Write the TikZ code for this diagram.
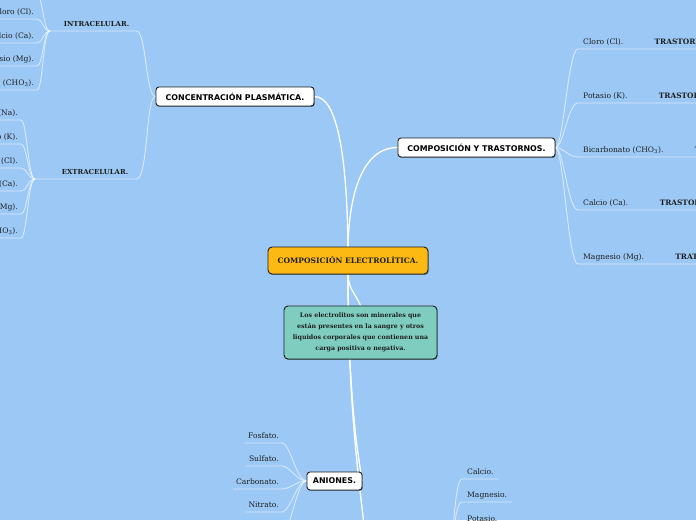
\documentclass[tikz,border=0pt]{standalone}
\usepackage{fontspec}
\setmainfont{DejaVu Serif}
\newfontfamily\boxfont{DejaVu Sans}
\usetikzlibrary{calc,shadows}
\definecolor{bgblue}{RGB}{155,200,245}
\definecolor{orng}{RGB}{253,185,19}
\definecolor{tealbox}{RGB}{126,205,191}
\definecolor{ink}{RGB}{30,30,30}
\pgfdeclarelayer{bg}\pgfdeclarelayer{edges}\pgfsetlayers{bg,edges,main}
\begin{document}
\begin{tikzpicture}[x=1pt,y=-1pt,
  box/.style={draw=ink, line width=0.9pt, rounded corners=3pt, fill=white,
    font=\boxfont\bfseries\fontsize{7.9}{9}\selectfont, text=black, inner sep=0pt,
    minimum height=19pt,
    drop shadow={shadow xshift=0.7pt, shadow yshift=-0.9pt, opacity=0.45, fill=black}},
  cbox/.style={draw=ink, line width=0.9pt, rounded corners=4pt, text=ink, inner sep=0pt,
    font=\bfseries\fontsize{7.5}{9}\selectfont,
    drop shadow={shadow xshift=0.7pt, shadow yshift=-0.9pt, opacity=0.45, fill=black}},
  leaf/.style={font=\fontsize{7.6}{9}\selectfont, text=ink, inner ysep=2.2pt,
    text height=5.6pt, text depth=1.9pt},
  leafL/.style={leaf, inner xsep=3pt, anchor=south east},
  leafR/.style={leaf, inner xsep=5pt, anchor=south west},
  midlbl/.style={font=\bfseries\fontsize{6.9}{8}\selectfont, text=ink, inner ysep=2.5pt,
    text height=5pt, text depth=1.5pt, anchor=south west},
  grand/.style={font=\bfseries\fontsize{7.4}{9}\selectfont, text=ink, inner xsep=5pt,
    inner ysep=2.2pt, text height=5.6pt, text depth=1.9pt, anchor=south west},
  mainl/.style={draw=white, line width=1.3pt},
  sub/.style={draw=white, draw opacity=0.6, line width=0.9pt}
]
\useasboundingbox (0,0) rectangle (696,520);
\begin{pgfonlayer}{bg}
\fill[bgblue] (0,0) rectangle (696,520);
\end{pgfonlayer}

% main boxes
\node[cbox, fill=orng, minimum width=160pt, minimum height=27pt] (cen) at (348,260.5) {COMPOSICIÓN ELECTROLÍTICA.};
\node[cbox, fill=tealbox, minimum width=153pt, minimum height=53pt, text width=150pt, align=center,
  font=\bfseries\fontsize{6.3}{11}\selectfont] (desc) at (360.5,332.5)
  {Los electrolitos son minerales que\\están presentes en la sangre y otros\\liquidos corporales que contienen una\\carga positiva o negativa.};
\node[box, minimum width=158pt] (conc) at (235,96.5) {CONCENTRACIÓN PLASMÁTICA.};
\node[box, minimum width=157pt] (comp) at (476.5,147.5) {COMPOSICIÓN Y TRASTORNOS.};
\node[box, minimum width=55pt, minimum height=18pt] (anio) at (334.5,481) {ANIONES.};

% offscreen parents
\coordinate (catN) at (366,545);
\coordinate (catE) at (448,550);

% intracelular / extracelular
\node[midlbl, inner xsep=7pt, text width=72pt, align=right] (intra) at (50,31) {INTRACELULAR.};
\node[midlbl, inner xsep=8pt, text width=85pt, align=right] (extra) at (35,179) {EXTRACELULAR.};

\node[leafL] (i0) at (37,-4) {Potasio (K).};
\node[leafL] (i1) at (37,19) {Cloro (Cl).};
\node[leafL] (i2) at (37,43) {Calcio (Ca).};
\node[leafL] (i3) at (37,66) {Magnesio (Mg).};
\node[leafL] (i4) at (37,90) {Bicarbonato (CHO\textsubscript{3}).};

\node[leafL] (e1) at (21,120) {Sodio (Na).};
\node[leafL] (e2) at (21,144) {Potasio (K).};
\node[leafL] (e3) at (21,168) {Cloro (Cl).};
\node[leafL] (e4) at (21,191) {Calcio (Ca).};
\node[leafL] (e5) at (21,214) {Magnesio (Mg).};
\node[leafL] (e6) at (21,238) {Bicarbonato (CHO\textsubscript{3}).};

% composicion y trastornos
\node[leafR] (r1) at (578,49) {Cloro (Cl).};
\node[leafR] (r2) at (578,103) {Potasio (K).};
\node[leafR] (r3) at (578,157) {Bicarbonato (CHO\textsubscript{3}).};
\node[leafR] (r4) at (578,210) {Calcio (Ca).};
\node[leafR] (r5) at (578,264) {Magnesio (Mg).};
\foreach \k/\t in {1/TRASTORNOS DEL CLORO., 2/TRASTORNOS DEL POTASIO., 3/TRASTORNOS DEL BICARBONATO., 4/TRASTORNOS DEL CALCIO., 5/TRATAMIENTO.}{
  \node[grand] (g\k) at ($(r\k.south east)+(21,0)$) {\t};
}

% aniones
\node[leafL] (a1) at (282,443) {Fosfato.};
\node[leafL] (a2) at (282,466) {Sulfato.};
\node[leafL] (a3) at (282,489) {Carbonato.};
\node[leafL] (a4) at (282,512) {Nitrato.};
\node[leafL] (a5) at (282,535) {Cloruro.};

% cationes
\node[leafR] (k1) at (462,479) {Calcio.};
\node[leafR] (k2) at (462,502) {Magnesio.};
\node[leafR] (k3) at (462,526) {Potasio.};

\begin{pgfonlayer}{edges}
% main connectors
\draw[mainl] (cen.north) .. controls (347,160) and (338,96.5) .. (conc.east);
\draw[mainl] (cen.north) .. controls (349,195) and (362,147.5) .. (comp.west);
\draw[mainl] (cen.south) .. controls +(1,16) and +(-6,-14) .. (desc.north);
\draw[mainl] (cen.south) .. controls +(0,120) and +(-4,-20) .. (anio.east);
\draw[mainl] (cen.south) .. controls +(0,150) and +(-3,-40) .. (catN);

% concentracion
\draw[sub] (conc.west) .. controls +(-10,0) and +(10,0) .. (intra.south east) -- (intra.south west);
\draw[sub] (conc.west) .. controls +(-10,0) and +(12,0) .. (extra.south east) -- (extra.south west);
\foreach \n in {i0,i1,i2,i3,i4}{
  \draw[sub] (intra.south west) .. controls +(-7,0) and +(6,0) .. (\n.south east) -- (\n.south west);
}
\foreach \n in {e1,e2,e3,e4,e5,e6}{
  \draw[sub] (extra.south west) .. controls +(-7,0) and +(6,0) .. (\n.south east) -- (\n.south west);
}
% composicion
\foreach \k in {1,...,5}{
  \draw[sub] (comp.east) .. controls +(8,0) and +(-10,0) .. (r\k.south west) -- (r\k.south east) -- (g\k.south west) -- (g\k.south east);
}
% aniones
\foreach \n in {a1,a2,a3,a4,a5}{
  \draw[sub] (anio.west) .. controls +(-10,0) and +(8,0) .. (\n.south east) -- (\n.south west);
}
% cationes
\foreach \n in {k1,k2,k3}{
  \draw[sub] (catE) .. controls +(6,0) and +(-8,0) .. (\n.south west) -- (\n.south east);
}
\end{pgfonlayer}
\end{tikzpicture}
\end{document}
